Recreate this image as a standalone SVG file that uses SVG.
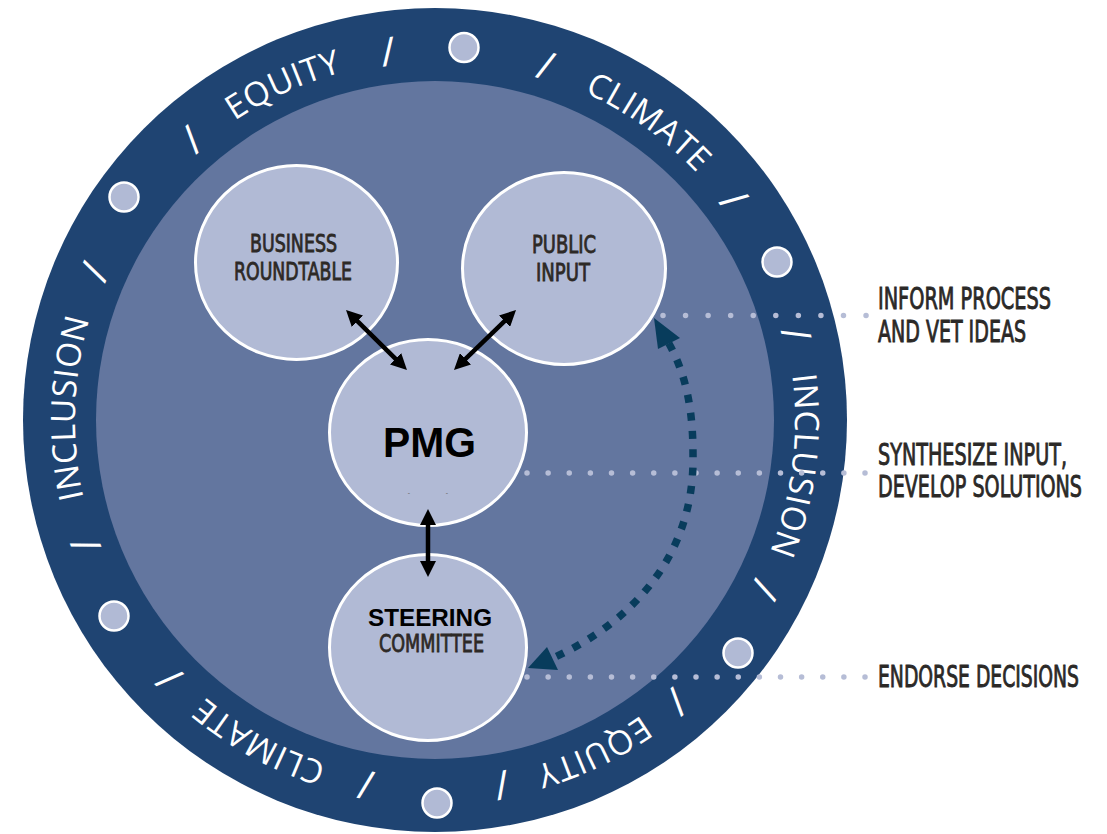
<svg xmlns="http://www.w3.org/2000/svg" width="1107" height="834" viewBox="0 0 1107 834">
<style>
.ring{font-family:'Open Sans','Liberation Sans',sans-serif;font-size:33.5px;fill:#fff;letter-spacing:0.5px}
.sl{font-size:40px}
.node{fill:#b1bad5;stroke:#fff;stroke-width:3}
.cond{font-family:'Liberation Sans Narrow','DejaVu Sans Condensed','Liberation Sans',sans-serif;fill:#2d2926;stroke:#2d2926;stroke-width:0.8}
.lbl{font-family:'Liberation Sans Narrow','DejaVu Sans Condensed','Liberation Sans',sans-serif;font-size:20.5px;fill:#2b2927;stroke:#2b2927;stroke-width:0.6}
.bold{font-family:'Liberation Sans',Arial,sans-serif;font-weight:bold;fill:#000}
.bead{fill:#b1bad5;stroke:#fff;stroke-width:2.5}
.dots{stroke:#b6bdd6;stroke-width:5.5;stroke-linecap:round;fill:none}
.link{stroke:#000;stroke-width:4.5;fill:none;marker-start:url(#ah);marker-end:url(#ah)}
.dash{stroke:#083c5c;stroke-width:7.5;fill:none;stroke-dasharray:8 10.3}
.head{fill:#083c5c}
</style>
<defs>
<path id="ringPath" d="M435,60 A360,360 0 1 1 435,780 A360,360 0 1 1 435,60"/>
<path id="slashPath" d="M435,63 A357,357 0 1 1 435,777 A357,357 0 1 1 435,63"/>
<marker id="ah" viewBox="0 0 16 16" refX="10" refY="8" markerWidth="16" markerHeight="16" markerUnits="userSpaceOnUse" orient="auto-start-reverse">
<path d="M0,0 L16,8 L0,16 z" fill="#000"/>
</marker>
</defs>
<rect width="1107" height="834" fill="#fff"/>
<g id="ring">
<circle cx="435" cy="420" r="412" fill="#1f4472"/>
<circle cx="435" cy="420" r="339" fill="#63769f"/>
<circle class="bead" cx="464" cy="47.5" r="14.5"/>
<circle class="bead" cx="777" cy="262" r="14.5"/>
<circle class="bead" cx="738" cy="653" r="14.5"/>
<circle class="bead" cx="437" cy="803" r="14.5"/>
<circle class="bead" cx="114" cy="616" r="14.5"/>
<circle class="bead" cx="124" cy="197" r="14.5"/>
<text class="ring" text-anchor="middle">
<textPath href="#ringPath" startOffset="223.7">CLIMATE</textPath>
<textPath href="#ringPath" startOffset="610.7">INCLUSION</textPath>
<textPath href="#ringPath" startOffset="970.1">EQUITY</textPath>
<textPath href="#ringPath" startOffset="1310.7">CLIMATE</textPath>
<textPath href="#ringPath" startOffset="1707.8">INCLUSION</textPath>
<textPath href="#ringPath" startOffset="2108">EQUITY</textPath>
</text>
<text class="ring sl" text-anchor="middle">
<textPath href="#slashPath" startOffset="108.4">/</textPath>
<textPath href="#slashPath" startOffset="334">/</textPath>
<textPath href="#slashPath" startOffset="477.3">/</textPath>
<textPath href="#slashPath" startOffset="730.3">/</textPath>
<textPath href="#slashPath" startOffset="868">/</textPath>
<textPath href="#slashPath" startOffset="1056.7">/</textPath>
<textPath href="#slashPath" startOffset="1188.2">/</textPath>
<textPath href="#slashPath" startOffset="1406.3">/</textPath>
<textPath href="#slashPath" startOffset="1559">/</textPath>
<textPath href="#slashPath" startOffset="1828.8">/</textPath>
<textPath href="#slashPath" startOffset="1987.6">/</textPath>
<textPath href="#slashPath" startOffset="2197">/</textPath>
</text>
</g>
<g id="business">
<ellipse class="node" cx="296.5" cy="262.5" rx="101" ry="97"/>
<text class="cond" font-size="24" text-anchor="middle" x="293.5" y="252" textLength="87" lengthAdjust="spacingAndGlyphs">BUSINESS</text>
<text class="cond" font-size="24" text-anchor="middle" x="293" y="280" textLength="118" lengthAdjust="spacingAndGlyphs">ROUNDTABLE</text>
</g>
<g id="public">
<ellipse class="node" cx="564" cy="268.5" rx="101.5" ry="96"/>
<text class="cond" font-size="24" text-anchor="middle" x="564" y="253" textLength="64" lengthAdjust="spacingAndGlyphs">PUBLIC</text>
<text class="cond" font-size="24" text-anchor="middle" x="563" y="281" textLength="54" lengthAdjust="spacingAndGlyphs">INPUT</text>
</g>
<g id="pmg">
<ellipse class="node" cx="428" cy="432.5" rx="98.5" ry="93"/>
<text class="bold" font-size="42" text-anchor="middle" x="429.5" y="457" textLength="93" lengthAdjust="spacingAndGlyphs">PMG</text>
<text font-family="Liberation Sans,sans-serif" font-size="7" fill="#666" text-anchor="middle" x="409" y="495">-</text>
<text font-family="Liberation Sans,sans-serif" font-size="7" fill="#666" text-anchor="middle" x="447" y="495">-</text>
</g>
<g id="steering">
<ellipse class="node" cx="428" cy="647.5" rx="98.5" ry="93"/>
<text class="bold" font-size="24" text-anchor="middle" x="430" y="626" textLength="124" lengthAdjust="spacingAndGlyphs">STEERING</text>
<text class="cond" font-size="25" text-anchor="middle" x="431.5" y="652" textLength="105" lengthAdjust="spacingAndGlyphs">COMMITTEE</text>
</g>
<g id="labels">
<text class="lbl" transform="translate(878,309) scale(1,1.5)" x="0" y="0" textLength="173" lengthAdjust="spacingAndGlyphs">INFORM PROCESS</text>
<text class="lbl" transform="translate(878,342) scale(1,1.5)" x="0" y="0" textLength="148" lengthAdjust="spacingAndGlyphs">AND VET IDEAS</text>
<text class="lbl" transform="translate(878,465) scale(1,1.5)" x="0" y="0" textLength="189" lengthAdjust="spacingAndGlyphs">SYNTHESIZE INPUT,</text>
<text class="lbl" transform="translate(878,497) scale(1,1.5)" x="0" y="0" textLength="204" lengthAdjust="spacingAndGlyphs">DEVELOP SOLUTIONS</text>
<text class="lbl" transform="translate(878,687) scale(1,1.5)" x="0" y="0" textLength="201" lengthAdjust="spacingAndGlyphs">ENDORSE DECISIONS</text>
</g>
<g id="connectors">
<line class="dots" x1="663" y1="315.5" x2="866.2" y2="315.5" stroke-dasharray="0 22.56"/>
<line class="dots" x1="527" y1="473" x2="865.2" y2="473" stroke-dasharray="0 21.125"/>
<line class="dots" x1="527" y1="677" x2="865.2" y2="677" stroke-dasharray="0 21.125"/>
<line class="link" x1="350.3" y1="314.2" x2="402.7" y2="365.8"/>
<line class="link" x1="511.7" y1="314.2" x2="458.3" y2="365.8"/>
<line class="link" x1="428" y1="515" x2="428" y2="571"/>
<path class="dash" d="M668.8,343.3 C688,378 693,415 693,455 C695,565 620,628 553,658"/>
<polygon class="head" points="654,318 680,338 658,349"/>
<polygon class="head" points="528,668 547,647 558,670"/>
</g>
</svg>
